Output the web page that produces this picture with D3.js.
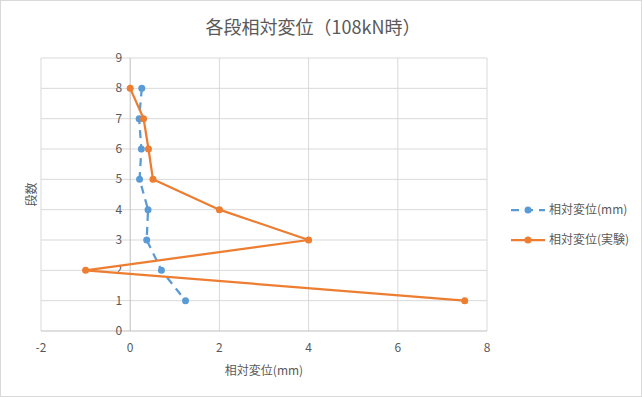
<!DOCTYPE html>
<html>
<head>
<meta charset="utf-8">
<script src="https://cdn.jsdelivr.net/npm/d3@7"></script>
<style>
  body { margin: 0; background: #fff; }
  text { font-family: "Noto Sans CJK JP", "Noto Sans", sans-serif; fill: #595959; }
</style>
</head>
<body>
<svg id="chart" width="642" height="397"></svg>
<script>
const stories = [8, 7, 6, 5, 4, 3, 2, 1];
const calcDisp = [0.26, 0.2, 0.25, 0.21, 0.4, 0.37, 0.7, 1.24];
const testDisp = [0.0, 0.3, 0.41, 0.51, 2.0, 4.0, -1.0, 7.5];
const xTicks = [-2, 0, 2, 4, 6, 8];
const yTicks = [0, 1, 2, 3, 4, 5, 6, 7, 8, 9];
const seriesNames = ['相対変位(mm)', '相対変位(実験)'];

const svg = d3.select('#chart');
svg.append('rect')
  .attr('x', 0.5).attr('y', 0.5)
  .attr('width', 641).attr('height', 396)
  .attr('fill', '#fff').attr('stroke', '#d9d9d9');

const x = d3.scaleLinear().domain([-2, 8]).range([41, 487]);
const y = d3.scaleLinear().domain([0, 9]).range([331, 58]);

// grid
let grid = svg.append('g');
grid.selectAll('.vg').data(xTicks.filter(d => d !== 0)).enter().append('line')
  .attr('x1', d => x(d)).attr('x2', d => x(d))
  .attr('y1', y(9)).attr('y2', y(0))
  .attr('stroke', '#d9d9d9');
grid.selectAll('.hg').data(yTicks.filter(d => d !== 0)).enter().append('line')
  .attr('x1', x(-2)).attr('x2', x(8))
  .attr('y1', d => y(d)).attr('y2', d => y(d))
  .attr('stroke', '#d9d9d9');

// zero axes
svg.append('line')
  .attr('x1', x(0)).attr('x2', x(0)).attr('y1', y(9)).attr('y2', y(0))
  .attr('stroke', '#bfbfbf');
svg.append('line')
  .attr('x1', x(-2)).attr('x2', x(8)).attr('y1', y(0)).attr('y2', y(0))
  .attr('stroke', '#bfbfbf');

// tick labels
svg.selectAll('.xt').data(xTicks).enter().append('text')
  .attr('x', d => x(d)).attr('y', 352)
  .attr('text-anchor', 'middle').attr('font-size', 12)
  .text(d => d);
svg.selectAll('.yt').data(yTicks).enter().append('text')
  .attr('x', x(0) - 8).attr('y', d => y(d) + 4)
  .attr('text-anchor', 'end').attr('font-size', 12)
  .text(d => d);

// series
const line = d3.line().x(d => x(d[0])).y(d => y(d[1]));
const calcPts = calcDisp.map((v, i) => [v, stories[i]]);
const testPts = testDisp.map((v, i) => [v, stories[i]]);

svg.append('path').datum(calcPts)
  .attr('d', line).attr('fill', 'none')
  .attr('stroke', '#5b9bd5').attr('stroke-width', 2.25)
  .attr('stroke-dasharray', '8,6');
svg.selectAll('.cp').data(calcPts).enter().append('circle')
  .attr('cx', d => x(d[0])).attr('cy', d => y(d[1])).attr('r', 3.5)
  .attr('fill', '#5b9bd5');

svg.append('path').datum(testPts)
  .attr('d', line).attr('fill', 'none')
  .attr('stroke', '#ed7d31').attr('stroke-width', 2.25);
svg.selectAll('.tp').data(testPts).enter().append('circle')
  .attr('cx', d => x(d[0])).attr('cy', d => y(d[1])).attr('r', 3.5)
  .attr('fill', '#ed7d31');

// titles
svg.append('text')
  .attr('x', 313).attr('y', 34)
  .attr('text-anchor', 'middle').attr('font-size', 18)
  .text('各段相対変位（108kN時）');
svg.append('text')
  .attr('x', 264).attr('y', 375)
  .attr('text-anchor', 'middle').attr('font-size', 12)
  .text('相対変位(mm)');
svg.append('text')
  .attr('transform', `translate(36,${y(4.5)}) rotate(-90)`)
  .attr('text-anchor', 'middle').attr('font-size', 12)
  .text('段数');

// legend
const legend = svg.append('g');
const legColors = ['#5b9bd5', '#ed7d31'];
seriesNames.forEach((name, i) => {
  const ly = 210 + i * 30;
  legend.append('line')
    .attr('x1', 511).attr('x2', 545).attr('y1', ly).attr('y2', ly)
    .attr('stroke', legColors[i]).attr('stroke-width', 2.25)
    .attr('stroke-dasharray', i === 0 ? '8,6' : null);
  legend.append('circle')
    .attr('cx', 528).attr('cy', ly).attr('r', 3.5).attr('fill', legColors[i]);
  legend.append('text')
    .attr('x', 549).attr('y', ly + 4).attr('font-size', 12)
    .text(name);
});
</script>
</body>
</html>
